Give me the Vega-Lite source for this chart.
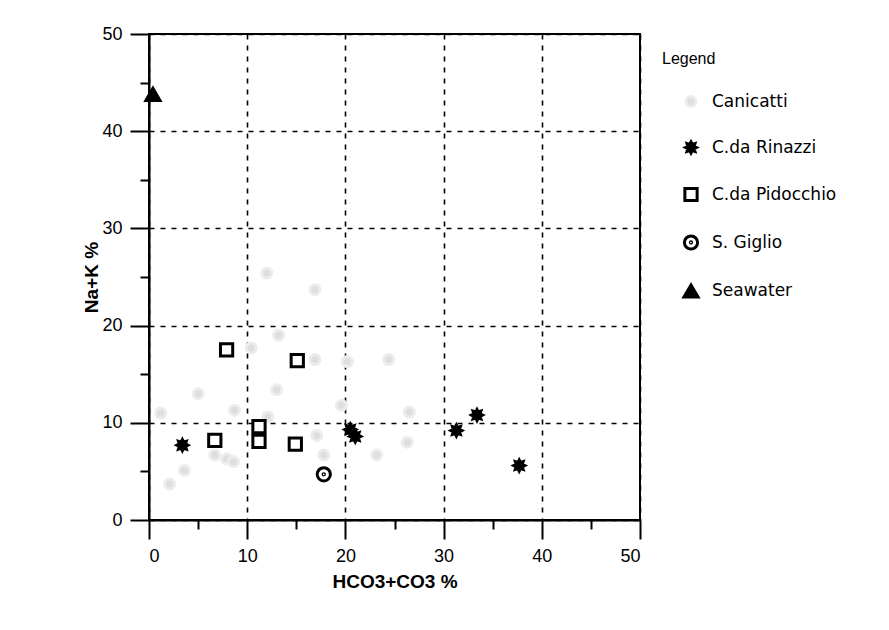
{
  "$schema": "https://vega.github.io/schema/vega-lite/v6.json",
  "autosize": "none",
  "width": 491,
  "height": 486,
  "padding": {"left": 149, "top": 34, "right": 249, "bottom": 110},
  "background": "white",
  "data": {
    "values": [
      {"series": "Canicatti", "x": 1.2, "y": 11.0},
      {"series": "Canicatti", "x": 2.1, "y": 3.7},
      {"series": "Canicatti", "x": 3.6, "y": 5.1},
      {"series": "Canicatti", "x": 5.0, "y": 13.0},
      {"series": "Canicatti", "x": 6.7, "y": 6.7},
      {"series": "Canicatti", "x": 7.9, "y": 6.3},
      {"series": "Canicatti", "x": 8.6, "y": 6.0},
      {"series": "Canicatti", "x": 8.7, "y": 11.3},
      {"series": "Canicatti", "x": 10.4, "y": 17.7},
      {"series": "Canicatti", "x": 12.0, "y": 25.4},
      {"series": "Canicatti", "x": 13.2, "y": 19.0},
      {"series": "Canicatti", "x": 13.0, "y": 13.4},
      {"series": "Canicatti", "x": 12.1, "y": 10.6},
      {"series": "Canicatti", "x": 16.9, "y": 23.7},
      {"series": "Canicatti", "x": 16.9, "y": 16.5},
      {"series": "Canicatti", "x": 17.1, "y": 8.7},
      {"series": "Canicatti", "x": 17.8, "y": 6.7},
      {"series": "Canicatti", "x": 19.6, "y": 11.8},
      {"series": "Canicatti", "x": 20.2, "y": 16.3},
      {"series": "Canicatti", "x": 24.4, "y": 16.5},
      {"series": "Canicatti", "x": 26.5, "y": 11.1},
      {"series": "Canicatti", "x": 26.3, "y": 8.0},
      {"series": "Canicatti", "x": 23.2, "y": 6.7},
      {"series": "C.da Rinazzi", "x": 3.4, "y": 7.7},
      {"series": "C.da Rinazzi", "x": 20.5, "y": 9.3},
      {"series": "C.da Rinazzi", "x": 21.0, "y": 8.6},
      {"series": "C.da Rinazzi", "x": 31.3, "y": 9.2},
      {"series": "C.da Rinazzi", "x": 33.4, "y": 10.8},
      {"series": "C.da Rinazzi", "x": 37.7, "y": 5.6},
      {"series": "C.da Pidocchio", "x": 7.9, "y": 17.5},
      {"series": "C.da Pidocchio", "x": 15.1, "y": 16.4},
      {"series": "C.da Pidocchio", "x": 6.7, "y": 8.2},
      {"series": "C.da Pidocchio", "x": 11.2, "y": 9.6},
      {"series": "C.da Pidocchio", "x": 11.2, "y": 8.1},
      {"series": "C.da Pidocchio", "x": 14.9, "y": 7.8},
      {"series": "S. Giglio", "x": 17.8, "y": 4.7},
      {"series": "Seawater", "x": 0.4, "y": 43.8}
    ]
  },
  "mark": {"type": "point", "opacity": 1, "strokeWidth": 3},
  "encoding": {
    "x": {
      "field": "x", "type": "quantitative",
      "scale": {"domain": [0, 50], "nice": false},
      "axis": {"values": [0, 5, 10, 15, 20, 25, 30, 35, 40, 45, 50], "title": "HCO3+CO3 %"}
    },
    "y": {
      "field": "y", "type": "quantitative",
      "scale": {"domain": [0, 50], "nice": false},
      "axis": {"values": [0, 5, 10, 15, 20, 25, 30, 35, 40, 45, 50], "title": "Na+K %"}
    },
    "shape": {
      "field": "series", "type": "nominal",
      "scale": {
        "domain": ["Canicatti", "C.da Rinazzi", "C.da Pidocchio", "S. Giglio", "Seawater"],
        "range": [
          "circle",
          "M0,-1L0.23,-0.554L0.707,-0.707L0.554,-0.23L1,0L0.554,0.23L0.707,0.707L0.23,0.554L0,1L-0.23,0.554L-0.707,0.707L-0.554,0.23L-1,0L-0.554,-0.23L-0.707,-0.707L-0.23,-0.554Z",
          "square",
          "M-1,0A1,1 0 1,0 1,0A1,1 0 1,0 -1,0ZM-0.1,0A0.1,0.1 0 1,0 0.1,0A0.1,0.1 0 1,0 -0.1,0Z",
          "triangle-up"
        ]
      },
      "legend": {"title": "Legend"}
    },
    "fill": {
      "field": "series", "type": "nominal",
      "scale": {
        "domain": ["Canicatti", "C.da Rinazzi", "C.da Pidocchio", "S. Giglio", "Seawater"],
        "range": ["#dedede", "#000000", "#ffffff", "#ffffff", "#000000"]
      },
      "legend": {"title": "Legend"}
    },
    "stroke": {
      "field": "series", "type": "nominal",
      "scale": {
        "domain": ["Canicatti", "C.da Rinazzi", "C.da Pidocchio", "S. Giglio", "Seawater"],
        "range": ["#ececec", "#000000", "#000000", "#000000", "#000000"]
      },
      "legend": {"title": "Legend"}
    },
    "size": {
      "field": "series", "type": "nominal",
      "scale": {
        "domain": ["Canicatti", "C.da Rinazzi", "C.da Pidocchio", "S. Giglio", "Seawater"],
        "range": [100, 200, 170, 150, 240]
      },
      "legend": {"title": "Legend"}
    }
  },
  "config": {
    "font": "Liberation Sans",
    "view": {"stroke": "#000000", "strokeWidth": 2},
    "axis": {
      "domainColor": "#000000",
      "domainWidth": 2,
      "tickColor": "#000000",
      "tickWidth": 2,
      "tickSize": {"condition": {"test": "datum.value % 10 === 0", "value": 19}, "value": 9},
      "labelExpr": "datum.value % 10 === 0 ? datum.label : ''",
      "labelFontSize": 18,
      "labelColor": "#000000",
      "labelFont": "Liberation Sans",
      "titleFont": "Liberation Sans",
      "titleFontSize": 19,
      "titleFontWeight": "bold",
      "titleColor": "#000000",
      "grid": true,
      "gridColor": "#000000",
      "gridWidth": 1.6,
      "gridDash": [5, 6],
      "gridOpacity": {"condition": {"test": "datum.value % 10 === 0", "value": 1}, "value": 0}
    },
    "axisX": {"labelPadding": 8, "titlePadding": 7},
    "axisY": {"labelPadding": 8, "titlePadding": 0},
    "legend": {
      "orient": "none",
      "legendX": 513,
      "legendY": 17,
      "titleFontSize": 16,
      "titleFontWeight": "normal",
      "titleColor": "#000000",
      "titleFont": "Liberation Sans",
      "titlePadding": 26,
      "labelFontSize": 17,
      "labelFont": "DejaVu Sans",
      "labelColor": "#000000",
      "labelOffset": 12,
      "symbolOffset": 20,
      "symbolStrokeWidth": 3,
      "rowPadding": 22,
      "labelLimit": 300
    }
  }
}
